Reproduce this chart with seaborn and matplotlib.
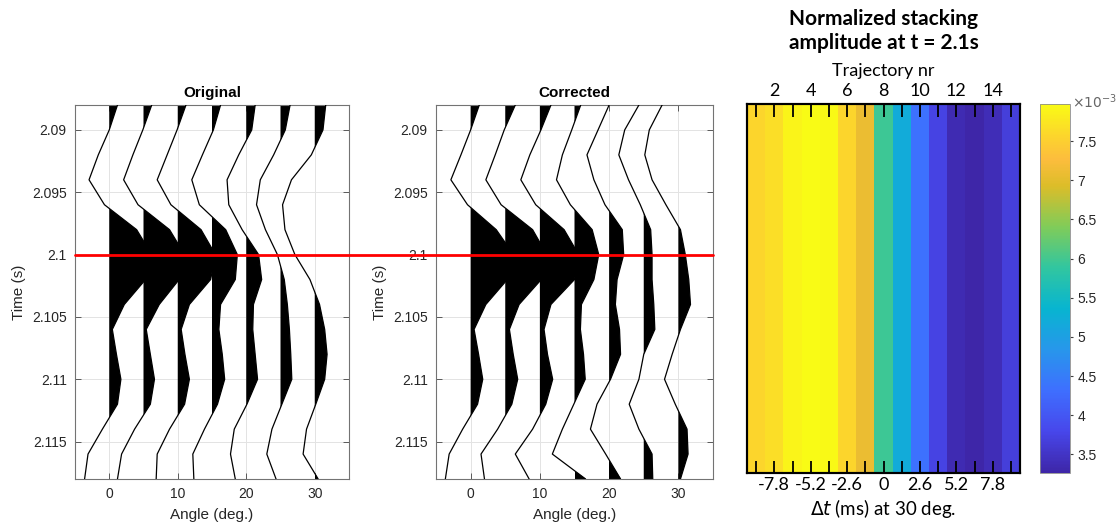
import numpy as np
import pandas as pd
import matplotlib
matplotlib.use("Agg")
import matplotlib.pyplot as plt
import seaborn as sns
from matplotlib.colors import LinearSegmentedColormap
from matplotlib.lines import Line2D

# ---------------- data ----------------
time_s = [2.088, 2.090, 2.092, 2.094, 2.096, 2.098, 2.100, 2.102,
          2.104, 2.106, 2.108, 2.110, 2.112, 2.114, 2.116, 2.118]
angles_deg = [0, 5, 10, 15, 20, 25, 30]

# trace deflections (in angle units) - Original
orig_00 = [1.2, 0.0, -1.6, -2.95, -0.7, 4.0, 6.2, 5.3, 2.2, 0.45, 1.05, 1.7, 1.2, -1.0, -3.1, -3.6]
orig_05 = [1.2, -0.1, -1.55, -2.9, -0.8, 3.8, 6.0, 5.2, 2.3, 0.4, 1.0, 1.6, 1.0, -1.3, -3.2, -3.8]
orig_10 = [1.2, -0.1, -1.55, -3.0, -1.0, 3.4, 5.5, 4.8, 1.7, 0.5, 1.05, 1.7, 1.0, -1.2, -3.0, -3.15]
orig_15 = [1.25, 0.2, -1.4, -2.95, -1.85, 2.0, 3.7, 3.4, 1.25, 1.0, 1.5, 1.85, 0.8, -1.1, -2.8, -2.65]
orig_20 = [1.3, 0.8, -1.1, -2.8, -2.55, -0.6, 1.8, 2.25, 1.05, 0.95, 1.3, 1.65, 0.1, -1.75, -2.3, -1.6]
orig_25 = [1.4, 0.7, -1.0, -2.95, -3.5, -2.2, -0.45, 0.55, 1.0, 1.3, 1.5, 1.65, 0.2, -1.25, -2.0, -0.65]
orig_30 = [1.6, 1.2, -0.5, -3.4, -4.7, -4.35, -2.9, -0.7, 0.7, 1.45, 1.8, 1.45, 0.15, -1.2, -1.7, 0.5]

# trace deflections (in angle units) - Corrected
corr_00 = [1.25, 0.0, -1.4, -2.85, -0.45, 3.7, 6.2, 5.3, 2.2, 0.5, 1.15, 1.75, 1.0, -1.15, -3.1, -3.65]
corr_05 = [1.45, -0.15, -1.45, -2.8, -0.6, 3.95, 6.0, 5.2, 2.0, 0.6, 1.15, 1.8, 0.95, -1.1, -3.5, -3.0]
corr_10 = [1.6, 0.15, -1.45, -2.75, -0.6, 3.5, 5.6, 5.0, 1.6, 0.6, 1.1, 1.85, 0.85, -1.05, -3.55, -1.55]
corr_15 = [0.9, -0.4, -1.75, -2.6, -0.6, 2.55, 3.5, 2.8, 1.0, 0.85, 1.3, 1.55, -0.1, -1.75, -3.2, 1.6]
corr_20 = [0.0, -1.6, -3.2, -2.2, -0.6, 1.9, 2.1, 1.15, 0.9, 1.5, 1.65, 0.2, -1.75, -2.7, -0.5, 1.65]
corr_25 = [-0.7, -2.75, -3.6, -2.2, -0.5, 1.0, 1.2, 1.2, 1.45, 1.6, 0.0, -0.7, -2.1, -0.7, 1.2, 1.3]
corr_30 = [-2.35, -4.2, -4.85, -3.8, -1.8, 0.3, 1.0, 1.5, 1.75, 0.3, -0.9, -2.0, -0.45, 1.25, 1.4, 0.3]

time_ticks = [2.09, 2.095, 2.1, 2.105, 2.11, 2.115]
angle_ticks = [0, 10, 20, 30]
red_line_time = 2.1

# heatmap: normalized stacking amplitude per trajectory
trajectory_nr = [1, 2, 3, 4, 5, 6, 7, 8, 9, 10, 11, 12, 13, 14, 15]
stack_amp = [7.56e-3, 7.65e-3, 7.89e-3, 7.98e-3, 7.96e-3, 7.56e-3, 7.08e-3, 5.97e-3,
             5.20e-3, 4.35e-3, 3.74e-3, 3.36e-3, 3.27e-3, 3.39e-3, 3.67e-3]
traj_tick_labels = ['', '2', '', '4', '', '6', '', '8', '', '10', '', '12', '', '14', '']
dt_tick_labels = ['', '-7.8', '', '-5.2', '', '-2.6', '', '0', '', '2.6', '', '5.2', '', '7.8', '']
cbar_ticks = [3.5e-3, 4.0e-3, 4.5e-3, 5.0e-3, 5.5e-3, 6.0e-3, 6.5e-3, 7.0e-3, 7.5e-3]
cbar_tick_labels = ['3.5', '4', '4.5', '5', '5.5', '6', '6.5', '7', '7.5']

# parula-like colormap (position, colour)
parula_nodes = [(0.000, (0.2422, 0.1504, 0.6603)), (0.111, (0.2803, 0.2782, 0.9221)),
                (0.222, (0.2440, 0.4358, 0.9988)), (0.333, (0.1540, 0.5902, 0.9218)),
                (0.444, (0.0297, 0.7082, 0.8163)), (0.556, (0.1938, 0.7758, 0.6251)),
                (0.667, (0.5044, 0.7993, 0.3480)), (0.778, (0.8634, 0.7406, 0.1596)),
                (0.850, (0.9900, 0.7400, 0.2400)), (0.900, (0.9892, 0.8136, 0.1885)),
                (1.000, (0.9769, 0.9839, 0.0805))]
parula = LinearSegmentedColormap.from_list("parula", parula_nodes, N=256)

# ---------------- style ----------------
sns.set_theme(style="white")
plt.rcParams['font.family'] = ['Liberation Sans', 'DejaVu Sans']
W, H = 1118, 529
fig = plt.figure(figsize=(W / 100, H / 100), dpi=100)

def px_rect(l, t, r, b):
    return [l / W, 1 - b / H, (r - l) / W, (b - t) / H]

ax1 = fig.add_axes(px_rect(75, 105, 349, 479))
ax2 = fig.add_axes(px_rect(436, 105, 713, 479))
axh = fig.add_axes(px_rect(747, 103.5, 1020, 472.5))
cax = fig.add_axes(px_rect(1040, 103.5, 1070, 472.5))

txt_col = '0.15'
BLACK = '#000000'

def wiggle(ax, traces, title):
    t = np.array(time_s)
    for a0, amp in zip(angles_deg, traces):
        amp = np.array(amp)
        x = a0 + amp
        ax.fill_betweenx(t, a0, x, where=amp > 0, interpolate=True,
                         color=BLACK, lw=0, zorder=2)
        sns.lineplot(x=x, y=t, orient='y', sort=False, estimator=None,
                     color=BLACK, lw=0.9, ax=ax, zorder=3)
    ax.set_xlim(-5, 35)
    ax.set_ylim(2.118, 2.088)
    ax.set_xticks(angle_ticks)
    ax.set_xticklabels([f"{v:g}" for v in angle_ticks])
    ax.set_yticks(time_ticks)
    ax.set_yticklabels([f"{v:g}" for v in time_ticks])
    ax.grid(True, color='#e3e3e3', lw=0.7, zorder=0)
    ax.set_axisbelow(True)
    ax.tick_params(direction='in', top=True, right=True, bottom=True, left=True,
                   length=4, width=0.7, color='0.35', labelsize=10, labelcolor=txt_col, pad=6)
    for s in ax.spines.values():
        s.set_visible(True)
        s.set_color('0.45')
        s.set_linewidth(0.8)
    ax.set_title(title, fontsize=11, fontweight='bold', color=BLACK, pad=6)
    ax.set_xlabel('Angle (deg.)', fontsize=11, color=txt_col, labelpad=5)
    ax.set_ylabel('Time (s)', fontsize=11, color=txt_col, labelpad=4)

wiggle(ax1, [orig_00, orig_05, orig_10, orig_15, orig_20, orig_25, orig_30], 'Original')
wiggle(ax2, [corr_00, corr_05, corr_10, corr_15, corr_20, corr_25, corr_30], 'Corrected')

# red line across both wiggle panels at t = 2.1 s
fig.canvas.draw()
y_disp = ax1.transData.transform((0, red_line_time))[1]
y_fig = fig.transFigure.inverted().transform((0, y_disp))[1]
x_start = ax1.get_position().x0
x_end = ax2.get_position().x1
fig.add_artist(Line2D([x_start, x_end], [y_fig, y_fig], transform=fig.transFigure,
                      color='#ff0000', lw=2, zorder=10))

# ---------------- heatmap ----------------
df = pd.DataFrame([stack_amp], columns=trajectory_nr)
sns.heatmap(df, ax=axh, cmap=parula, vmin=min(stack_amp), vmax=max(stack_amp),
            cbar_ax=cax, xticklabels=False, yticklabels=False)
axh.set_axisbelow(False)
centers = np.arange(len(trajectory_nr)) + 0.5
lato = ['Lato', 'DejaVu Sans']
axh.set_xticks(centers)
axh.set_xticklabels(dt_tick_labels, fontsize=13, family=lato, color=BLACK, rotation=0)
axh.set_yticks([])
axh.tick_params(axis='x', direction='in', bottom=True, length=9, width=1.3, color=BLACK, pad=3)
for s in axh.spines.values():
    s.set_visible(True)
    s.set_color(BLACK)
    s.set_linewidth(1.5)
    s.set_zorder(6)
axh.set_xlabel(r'$\Delta t$ (ms) at 30 deg.', fontsize=13.5, family=lato, color=BLACK, labelpad=3)
axh.set_ylabel('')

# top axis: trajectory number
axt = axh.twiny()
axt.set_zorder(axh.get_zorder() + 1)
axt.patch.set_visible(False)
axt.set_xlim(axh.get_xlim())
axt.set_xticks(centers)
axt.set_xticklabels(traj_tick_labels, fontsize=13, family=lato, color=BLACK)
axt.tick_params(axis='x', direction='in', top=True, length=9, width=1.3, color=BLACK, pad=3)
axt.set_yticks([])
for s in axt.spines.values():
    s.set_visible(True)
    s.set_color(BLACK)
    s.set_linewidth(1.5)
axt.set_xlabel('Trajectory nr', fontsize=13, family=lato, color=BLACK, labelpad=5)

hx = (747 + 1020) / 2 / W
fig.text(hx, 1 - 31 / H, 'Normalized stacking\namplitude at t = 2.1s', ha='center', va='center',
         fontsize=15, fontweight='bold', family=lato, linespacing=1.3, color=BLACK)

# colorbar
cbar = axh.collections[0].colorbar
cbar.set_ticks(cbar_ticks)
cbar.set_ticklabels(cbar_tick_labels)
cbar.ax.tick_params(direction='out', length=2.5, width=0.8, color='0.25', labelsize=10,
                    labelcolor=txt_col, pad=3)
cbar.outline.set_edgecolor('0.55')
cbar.outline.set_linewidth(0.6)
fig.text(1072 / W, 1 - 102 / H, r'$\times10^{-3}$', ha='left', va='center', fontsize=10, color='0.4')

fig.savefig('out.png', dpi=100)
